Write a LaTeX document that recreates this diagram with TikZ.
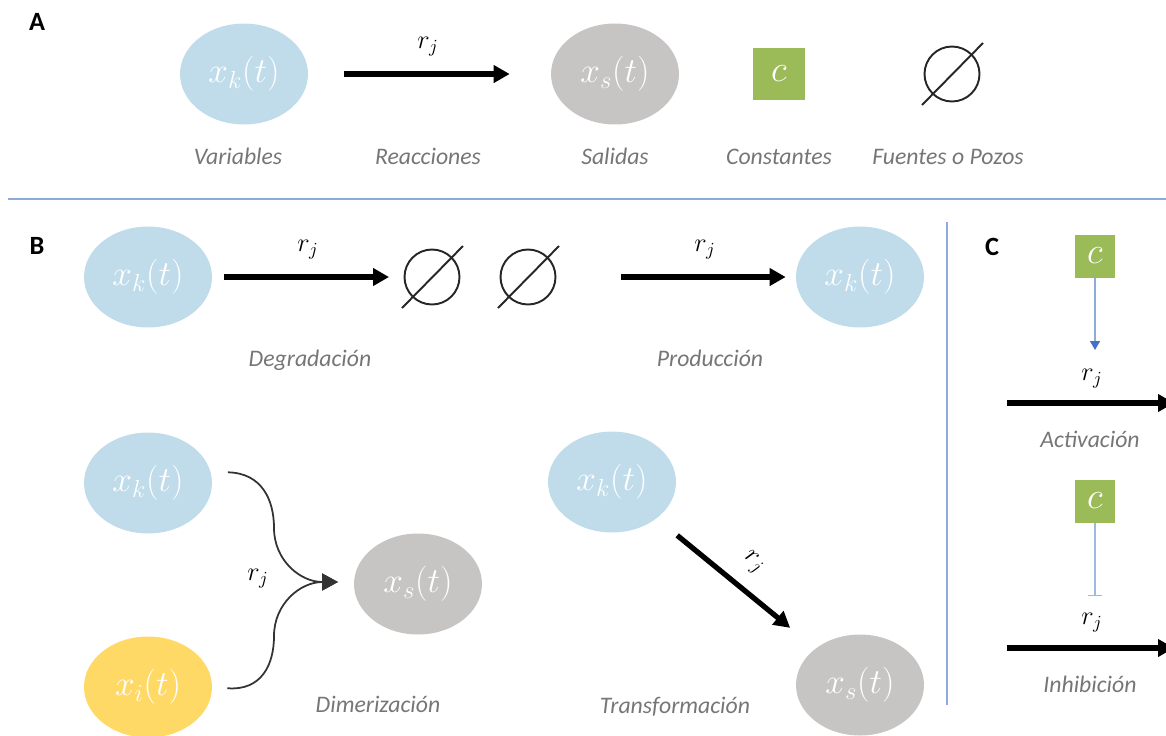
\RequirePackage{fix-cm}
\documentclass[tikz,border=0pt]{standalone}
\usepackage{fontspec}
\newfontfamily\calibri{Carlito}
\usetikzlibrary{shapes.geometric,arrows.meta}

\definecolor{varblue}{RGB}{192,220,234}
\definecolor{outgray}{RGB}{199,196,196}
\definecolor{varyellow}{RGB}{255,217,102}
\definecolor{constgreen}{RGB}{155,187,89}
\definecolor{captiongray}{RGB}{118,118,118}
\definecolor{ruleblue}{RGB}{143,170,220}
\definecolor{actblue}{RGB}{68,114,196}

\tikzset{
  species/.style={ellipse, inner sep=0pt, minimum width=2.56cm, minimum height=2.02cm, text=white, font=\fontsize{20}{24}\selectfont},
  varnode/.style={species, fill=varblue},
  outnode/.style={species, fill=outgray},
  innode/.style={species, fill=varyellow},
  constbox/.style={fill=constgreen, inner sep=0pt, text=white, font=\fontsize{21}{24}\selectfont},
  nullset/.style={circle, draw=black!85, line width=1.1pt, minimum size=1.1cm, inner sep=0pt},
  slash/.style={draw=black!85, line width=1.1pt},
  reaction/.style={->, line width=3pt},
  merge/.style={->, draw=black!80, line width=1pt},
  actline/.style={draw=ruleblue, line width=0.7pt, -{Triangle[length=0.18cm,width=0.2cm,color=actblue]}},
  inhline/.style={draw=ruleblue!85, line width=0.7pt, -{Bar[width=0.28cm]}},
  rate/.style={font=\fontsize{15}{18}\selectfont},
  caption/.style={anchor=base, text=captiongray, font=\fontsize{13.5}{16}\calibri\itshape},
  panel/.style={font=\fontsize{15}{18}\calibri\bfseries},
  divider/.style={draw=ruleblue, line width=0.8pt}
}

\begin{document}
\begin{tikzpicture}[>={Triangle[length=0.32cm,width=0.34cm]}, x=0.02cm, y=-0.02cm]
  \useasboundingbox (0,0) rectangle (1166,735);
  \clip (0,0) rectangle (1166,735);

  % A: legend
  \node[panel] (labA) at (37,22) {A};
  \node[varnode] (xkA) at (244,74) {$x_k(t)$};
  \node[outnode] (xsA) at (615,74) {$x_s(t)$};
  \node[constbox, minimum size=1.04cm] (cA) at (779,74) {$c$};
  \node[nullset] (nullA) at (952,74) {};
  \draw[reaction, shorten <=0.72cm, shorten >=0.82cm] (xkA) -- (xsA);
  \node[rate] (rA) at (428,47) {$r_j$};
  \node[caption] (capVar) at (238,164) {Variables};
  \node[caption] (capReac) at (428,164) {Reacciones};
  \node[caption] (capSal) at (615,164) {Salidas};
  \node[caption] (capConst) at (779,164) {Constantes};
  \node[caption] (capNull) at (948,164) {Fuentes o Pozos};

  \draw[divider] (8,199) -- (1166,199);
  \draw[divider] (947,222) -- (947,705);

  % B: degradation and production
  \node[panel] (labB) at (37,246) {B};
  \node[varnode] (xkDeg) at (148,277) {$x_k(t)$};
  \node[nullset] (nullDeg) at (432,277) {};
  \node[nullset] (nullProd) at (528,277) {};
  \node[varnode] (xkProd) at (860,277) {$x_k(t)$};
  \draw[reaction, shorten <=0.24cm, shorten >=0.29cm] (xkDeg) -- (nullDeg);
  \draw[reaction, shorten <=1.29cm, shorten >=0.2cm] (nullProd) -- (xkProd);
  \node[rate] (rDeg) at (308,250) {$r_j$};
  \node[rate] (rProd) at (705,250) {$r_j$};
  \node[caption] (capDeg) at (310,366) {Degradación};
  \node[caption] (capProd) at (710,366) {Producción};

  \foreach \n in {nullA,nullDeg,nullProd}
    \draw[slash] ([shift={(-30,31)}]\n.center) -- ([shift={(31,-31)}]\n.center);

  % B: dimerization
  \node[varnode] (xkDim) at (148,483) {$x_k(t)$};
  \node[innode] (xiDim) at (148,687) {$x_i(t)$};
  \node[outnode] (xsDim) at (418,584) {$x_s(t)$};
  \coordinate (dimer) at (338,582);
  \draw[merge, shorten <=0.34cm] (xkDim.10) .. controls (262,473) and (274,500) .. (274,528)
    .. controls (274,560) and (300,582) .. (dimer);
  \draw[merge, shorten <=0.3cm] (xiDim.east) .. controls (262,691) and (274,664) .. (274,636)
    .. controls (274,604) and (300,582) .. (dimer);
  \node[rate] (rDim) at (258,579) {$r_j$};
  \node[caption] (capDim) at (378,712) {Dimerización};

  % B: transformation
  \node[varnode] (xkTr) at (612,482) {$x_k(t)$};
  \node[outnode] (xsTr) at (860,685) {$x_s(t)$};
  \draw[reaction, shorten <=0.53cm, shorten >=0.65cm] (xkTr) -- (xsTr)
    node[rate, midway, sloped, above=5pt] (rTr) {$r_j$};
  \node[caption] (capTr) at (675,713) {Transformación};

  % C: activation and inhibition
  \node[panel] (labC) at (992,247) {C};
  \node[constbox, minimum width=0.8cm, minimum height=0.86cm] (cAct) at (1095,256) {$c$};
  \coordinate (actTip) at (1095,350);
  \draw[actline] (cAct) -- (actTip);
  \coordinate (actIn) at (1007,403);
  \coordinate (actOut) at (1174,403);
  \draw[reaction] (actIn) -- (actOut);
  \node[rate] (rAct) at (1092,379) {$r_j$};
  \node[caption] (capAct) at (1090,447) {Activación};

  \node[constbox, minimum width=0.8cm, minimum height=0.86cm] (cInh) at (1095,501) {$c$};
  \coordinate (inhBar) at (1095,596);
  \draw[inhline] (cInh) -- (inhBar);
  \coordinate (inhIn) at (1007,648);
  \coordinate (inhOut) at (1174,648);
  \draw[reaction] (inhIn) -- (inhOut);
  \node[rate] (rInh) at (1092,623) {$r_j$};
  \node[caption] (capInh) at (1090,692) {Inhibición};
\end{tikzpicture}
\end{document}
